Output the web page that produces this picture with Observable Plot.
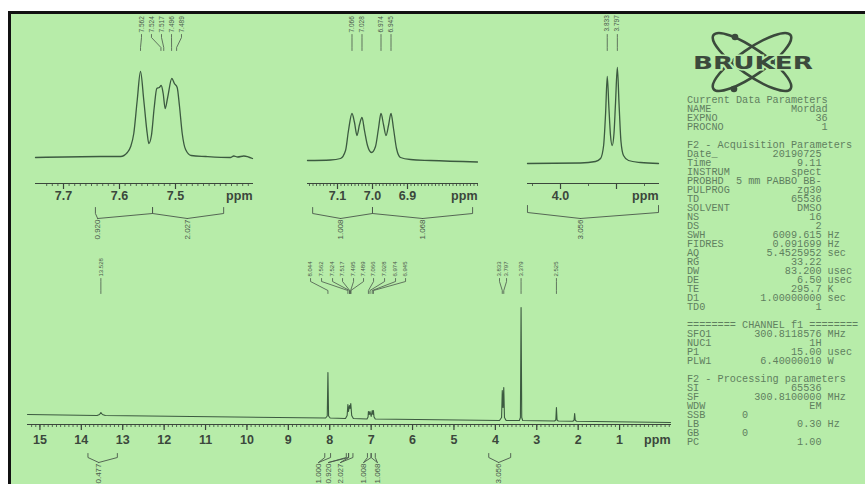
<!DOCTYPE html>
<html><head><meta charset="utf-8">
<script src="https://cdn.jsdelivr.net/npm/d3@7"></script>
<script src="https://cdn.jsdelivr.net/npm/@observablehq/plot@0.6"></script>
<style>
html,body{margin:0;padding:0;background:#fff;}
#wrap{position:relative;width:865px;height:484px;overflow:hidden;background:#fff;font-family:"Liberation Sans",Arial,sans-serif;}
#paper{position:absolute;left:8px;top:11px;right:0;bottom:0;border-top:3px solid #111;border-left:3px solid #111;background:#b7eca9;}
.layer{position:absolute;left:0;top:0;}
#wrap svg{background:transparent !important;max-width:none !important;}
#params{position:absolute;left:687px;top:96px;margin:0;font-family:"Liberation Mono","DejaVu Sans Mono",monospace;font-size:10.2px;line-height:9px;color:#5f7f5f;white-space:pre;}
</style></head>
<body>
<div id="wrap">
<div id="paper"></div>
<svg id="logo" class="layer" width="865" height="484" style="pointer-events:none">
  <g fill="none" stroke="#3b4a3c" stroke-width="2.6">
    <ellipse cx="752" cy="62" rx="47" ry="13" transform="rotate(35 752 62)"/>
    <ellipse cx="752" cy="62" rx="47" ry="13" transform="rotate(-35 752 62)"/>
  </g>
  <circle cx="735" cy="37" r="3.3" fill="#3b4a3c"/>
  <circle cx="734" cy="89" r="3.3" fill="#3b4a3c"/>
  <text x="753" y="69" text-anchor="middle" font-family="DejaVu Sans" font-weight="bold" font-size="18" textLength="120" lengthAdjust="spacingAndGlyphs" fill="#3b4a3c" stroke="#b7eca9" stroke-width="3" paint-order="stroke">BRUKER</text>
</svg>
<pre id="params"></pre>
</div>
<script>
// ---------------- DATA ----------------
// main 1H spectrum: [ppm, intensity]
const mainSpectrum = [
  [15.30,4],[13.62,3],[13.56,4],[13.528,6],[13.49,4],[13.42,3],
  [8.10,0.5],[8.06,2.5],[8.044,46],[8.028,2.5],[7.99,0.5],
  [7.62,0],[7.58,3],[7.562,14],[7.548,7],[7.524,13],[7.510,10],[7.492,15],[7.470,3],[7.43,0],
  [7.10,-0.5],[7.075,1.5],[7.066,7],[7.046,4],[7.028,7],[7.0,2],[6.974,8],[6.958,4],[6.945,8],[6.93,1.5],[6.90,-0.5],
  [3.90,-2],[3.85,1],[3.833,28],[3.815,11],[3.797,31],[3.78,1],[3.74,-2],
  [3.42,-2],[3.395,1],[3.379,111],[3.363,1],[3.34,-2],
  [2.57,-2.5],[2.54,-1.5],[2.525,11],[2.51,-1.5],[2.48,-2.5],
  [2.13,-2.7],[2.10,-1.7],[2.085,5],[2.07,-1.7],[2.04,-2.7],[-0.23,-4]
];
const mainTicksMajor = [15,14,13,12,11,10,9,8,7,6,5,4,3,2,1];
const mainPeakText = ["13.528","8.044","7.562","7.524","7.517","7.495","7.489","7.066","7.028","6.974","6.945","3.833","3.797","3.379","2.525"];
const mainPeakAt   = [13.528,8.044,7.562,7.524,7.517,7.495,7.489,7.066,7.028,6.974,6.945,3.833,3.797,3.379,2.525];
const mainPeakPos  = [13.528,8.464,8.198,7.932,7.691,7.425,7.184,6.942,6.676,6.411,6.169,3.90,3.73,3.379,2.525];
const mainIntegValue = ["0.477","1.000","0.920","2.027","1.008","1.068","3.056"];
const mainIntegStart = [13.84,8.12,7.60,7.545,7.09,7.0,4.16];
const mainIntegEnd   = [13.13,7.98,7.545,7.44,7.0,6.90,3.63];
const mainIntegLabel = [13.58,8.27,8.03,7.74,7.18,6.85,3.92];

// inset 1 (7.45–7.65 ppm)
const inset1Spectrum = [
  [7.75,0],[7.634,1],[7.598,1],[7.586,5],[7.580,11],[7.5745,24],[7.5684,57],[7.5625,86],[7.5566,57],[7.5505,24],
  [7.5477,14],[7.543,22],[7.538,50],[7.5334,69],[7.529,70],[7.5255,72],[7.522,64],[7.5184,49],[7.514,60],
  [7.5066,79],[7.502,74],[7.497,70],[7.493,52],[7.488,24],[7.482,8],[7.472,2],[7.446,1],[7.402,0],[7.396,1.5],
  [7.389,0.5],[7.378,1.5],[7.3625,-1]
];
const inset1Ticks = [7.7,7.6,7.5];
const inset1PeakText = ["7.562","7.524","7.517","7.496","7.489"];
const inset1PeakAt   = [7.5625,7.526,7.521,7.507,7.498];
const inset1PeakPos  = [7.5607,7.5429,7.525,7.5071,7.4893];
const inset1IntegValue = ["0.920","2.027"];
const inset1IntegStart = [7.643,7.541];
const inset1IntegEnd   = [7.541,7.414];
const inset1IntegLabel = [7.639,7.479];

// inset 2 (6.9–7.1 ppm)
const inset2Spectrum = [
  [7.1857,0],[7.12,0.5],[7.0914,2],[7.077,10],[7.0686,30],[7.0586,47],[7.0514,38],[7.0443,25],[7.0371,36],
  [7.03,43],[7.0229,30],[7.0143,15],[7.0029,8],[6.9914,14],[6.9829,32],[6.9757,47],[6.9686,36],[6.9614,25],
  [6.9543,35],[6.9471,47],[6.94,32],[6.9314,12],[6.92,3],[6.8914,1],[6.834,0],[6.7,-1.5]
];
const inset2Ticks = [7.1,7.0,6.9];
const inset2PeakText = ["7.066","7.028","6.974","6.945"];
const inset2PeakAt   = [7.0586,7.03,6.9757,6.9471];
const inset2PeakPos  = [7.0586,7.03,6.9757,6.9471];
const inset2IntegValue = ["1.008","1.068"];
const inset2IntegStart = [7.171,7.0];
const inset2IntegEnd   = [7.0,6.714];
const inset2IntegLabel = [7.091,6.857];

// inset 3 (3.8 ppm)
const inset3Spectrum = [
  [4.1179,0],[3.9286,0.5],[3.875,2],[3.857,5],[3.846,18],[3.839,50],[3.833,87],[3.827,55],[3.8214,28],
  [3.8154,18],[3.809,30],[3.8036,60],[3.797,96],[3.791,60],[3.784,22],[3.775,8],[3.757,3],[3.714,1],[3.65,0]
];
const inset3Ticks = [4.0];
const inset3PeakText = ["3.833","3.797"];
const inset3PeakAt   = [3.833,3.797];
const inset3PeakPos  = [3.833,3.797];
const inset3IntegValue = ["3.056"];
const inset3IntegStart = [4.118];
const inset3IntegEnd   = [3.65];
const inset3IntegLabel = [3.929];

// Bruker parameter block
const paramNames = ["Current Data Parameters","NAME","EXPNO","PROCNO","",
  "F2 - Acquisition Parameters","Date_","Time","INSTRUM","PROBHD","PULPROG","TD","SOLVENT","NS","DS",
  "SWH","FIDRES","AQ","RG","DW","DE","TE","D1","TD0","",
  "======== CHANNEL f1 ========","SFO1","NUC1","P1","PLW1","",
  "F2 - Processing parameters","SI","SF","WDW","SSB","LB","GB","PC"];
const paramValues = ["","Mordad","36","1","",
  "","20190725","9.11","spect","5 mm PABBO BB-","zg30","65536","DMSO","16","2",
  "6009.615","0.091699","5.4525952","33.22","83.200","6.50","295.7","1.00000000","1","",
  "","300.8118576","1H","15.00","6.40000010","",
  "","65536","300.8100000","EM","0","0.30","0","1.00"];
const paramUnits = ["","","","","",
  "","","","","","","","","","",
  "Hz","Hz","sec","","usec","usec","K","sec","","",
  "","MHz","","usec","W","",
  "","","MHz","","","Hz","",""];

// ---------------- DRAW ----------------
const W = 865, H = 484;
const INK = "#3b473c", LINE = "#3c5a40", LABEL = "#4a574b";

function spectrumPanel(c) {
  const peaks = c.peakText.map((t, i) => ({t, at: c.peakAt[i], pos: c.peakPos[i]}));
  const peakLines = peaks.flatMap((p, i) => [
    {x: p.pos, y: c.lv[1], z: i}, {x: p.pos, y: c.lv[2], z: i},
    {x: p.at, y: c.lv[3], z: i}, {x: p.at, y: c.lv[4], z: i}]);
  const integ = c.integValue.map((v, i) => ({v, s: c.integStart[i], e: c.integEnd[i], l: c.integLabel[i]}));
  const integLines = integ.flatMap((d, i) => [
    {x: d.s, y: c.iv[0], z: i + "a"}, {x: d.s, y: c.iv[1], z: i + "a"}, {x: d.l, y: c.iv[2], z: i + "a"},
    {x: d.e, y: c.iv[0], z: i + "b"}, {x: d.e, y: c.iv[1], z: i + "b"}, {x: d.l, y: c.iv[2], z: i + "b"}]);
  const svg = Plot.plot({
    width: W, height: H,
    marginTop: 0, marginLeft: c.left, marginRight: W - c.right, marginBottom: H - c.axisY,
    x: {domain: c.domain},
    y: {domain: [0, c.hmax], range: [c.base, c.base - c.hmax], axis: null},
    style: {background: "transparent", overflow: "visible", color: INK, fontFamily: "Liberation Sans, Arial, sans-serif"},
    marks: [
      Plot.frame({anchor: "bottom", stroke: INK, strokeWidth: 1}),
      Plot.axisX({ticks: c.minor, tickSize: 3, fill: "none", label: null, stroke: INK, strokeWidth: 0.8}),
      Plot.axisX({ticks: c.major, tickSize: 6, fill: "none", label: null, stroke: INK, strokeWidth: 1.2}),
      Plot.text(c.labels, {x: d => d, text: c.fmt, frameAnchor: "bottom", dy: c.labelDy, fontSize: 12.5, fontWeight: "bold", fill: INK}),
      Plot.text([c.domain[1]], {x: d => d, text: () => "ppm", frameAnchor: "bottom", dy: c.labelDy, textAnchor: "end", fontSize: 12.5, fontWeight: "bold", fill: INK}),
      Plot.line(c.spectrum, {x: d => d[0], y: d => d[1], curve: c.curve, stroke: LINE, strokeWidth: c.sw}),
      Plot.line(peakLines, {x: "x", y: "y", z: "z", stroke: LABEL, strokeWidth: 0.8}),
      Plot.text(peaks, {x: "pos", y: () => c.lv[0], text: "t", rotate: -90, textAnchor: "start", fontSize: c.peakFont, fill: LABEL}),
      Plot.line(integLines, {x: "x", y: "y", z: "z", stroke: LABEL, strokeWidth: 0.9}),
      Plot.text(integ, {x: "l", y: () => c.iv[3], text: "v", rotate: -90, textAnchor: "end", fontSize: 8, fill: LABEL})
    ]
  });
  svg.classList.add("layer");
  return svg;
}

const wrap = document.getElementById("wrap");
const logo = document.getElementById("logo");

const panels = [
  spectrumPanel({ // main spectrum
    left: 27, right: 670, axisY: 424, base: 418, hmax: 111, domain: [15.3, -0.23],
    spectrum: mainSpectrum, curve: "linear", sw: 1.1,
    minor: d3.range(-2, 153).map(i => i / 10), major: mainTicksMajor, labels: mainTicksMajor,
    fmt: d => d3.format("d")(d), labelDy: 19,
    peakText: mainPeakText, peakAt: mainPeakAt, peakPos: mainPeakPos, peakFont: 6,
    lv: [142, 140, 137, 128, 125],
    integValue: mainIntegValue, integStart: mainIntegStart, integEnd: mainIntegEnd, integLabel: mainIntegLabel,
    iv: [-35, -39, -44, -45]
  }),
  spectrumPanel({ // inset 1
    left: 35, right: 252, axisY: 183, base: 157, hmax: 86, domain: [7.75, 7.3625],
    spectrum: inset1Spectrum, curve: "monotone-x", sw: 1.3,
    minor: d3.range(737, 774).map(i => i / 100), major: inset1Ticks, labels: inset1Ticks,
    fmt: d => d.toFixed(1), labelDy: 16,
    peakText: inset1PeakText, peakAt: inset1PeakAt, peakPos: inset1PeakPos, peakFont: 6.5,
    lv: [125, 123, 120, 110, 107],
    integValue: inset1IntegValue, integStart: inset1IntegStart, integEnd: inset1IntegEnd, integLabel: inset1IntegLabel,
    iv: [-50, -56, -61, -62]
  }),
  spectrumPanel({ // inset 2
    left: 307, right: 477, axisY: 183, base: 160, hmax: 47, domain: [7.1857, 6.7],
    spectrum: inset2Spectrum, curve: "monotone-x", sw: 1.3,
    minor: d3.range(670, 719).map(i => i / 100), major: inset2Ticks, labels: inset2Ticks,
    fmt: d => d.toFixed(1), labelDy: 16,
    peakText: inset2PeakText, peakAt: inset2PeakAt, peakPos: inset2PeakPos, peakFont: 6.5,
    lv: [128, 126, 123, 113, 110],
    integValue: inset2IntegValue, integStart: inset2IntegStart, integEnd: inset2IntegEnd, integLabel: inset2IntegLabel,
    iv: [-47, -53, -58, -59]
  }),
  spectrumPanel({ // inset 3
    left: 527, right: 658, axisY: 183, base: 163, hmax: 96, domain: [4.1179, 3.65],
    spectrum: inset3Spectrum, curve: "monotone-x", sw: 1.3,
    minor: [4.1, 3.9, 3.7], major: [4.0, 3.8], labels: inset3Ticks,
    fmt: d => d.toFixed(1), labelDy: 16,
    peakText: inset3PeakText, peakAt: inset3PeakAt, peakPos: inset3PeakPos, peakFont: 6.5,
    lv: [132, 129, 126, 116, 113],
    integValue: inset3IntegValue, integStart: inset3IntegStart, integEnd: inset3IntegEnd, integLabel: inset3IntegLabel,
    iv: [-42, -49, -55, -56]
  })
];
panels.forEach(p => wrap.insertBefore(p, logo));

// parameter listing
const lines = paramNames.map((n, i) => {
  const v = paramValues[i], u = paramUnits[i];
  if (!v) return n;
  if (i < 4) return n.padEnd(23 - v.length) + v;
  if (v === "0" && (n === "SSB" || n === "GB")) return n.padEnd(9) + v;
  return n.padEnd(22 - v.length) + v + (u ? " " + u : "");
});
document.getElementById("params").textContent = lines.join("\n");
</script>
</body></html>
